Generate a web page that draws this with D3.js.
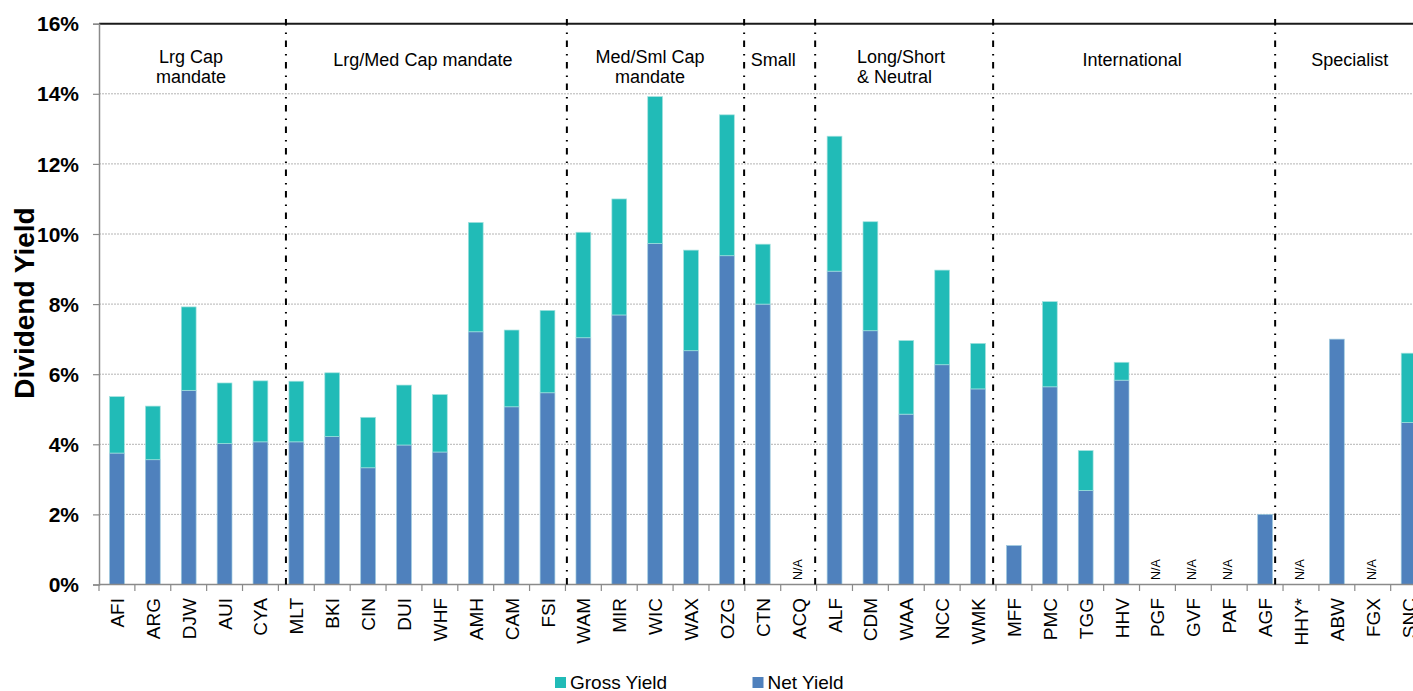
<!DOCTYPE html>
<html>
<head>
<meta charset="utf-8">
<script src="https://cdn.jsdelivr.net/npm/d3@7"></script>
<style>
    body { margin: 0; background: #ffffff; }
    svg { display: block; font-family: "Liberation Sans", Arial, sans-serif; }
</style>
</head>
<body>
<svg id="chart"></svg>
<script>
const categories = ["AFI", "ARG", "DJW", "AUI", "CYA", "MLT", "BKI", "CIN", "DUI", "WHF", "AMH", "CAM", "FSI",
    "WAM", "MIR", "WIC", "WAX", "OZG", "CTN", "ACQ", "ALF", "CDM", "WAA", "NCC", "WMK",
    "MFF", "PMC", "TGG", "HHV", "PGF", "GVF", "PAF", "AGF", "HHY*", "ABW", "FGX", "SNC"];

// null = N/A
const netYield = [3.75, 3.56, 5.54, 4.02, 4.07, 4.07, 4.22, 3.33, 3.98, 3.78, 7.21, 5.07, 5.47,
    7.04, 7.69, 9.73, 6.67, 9.38, 8.00, null, 8.94, 7.24, 4.86, 6.27, 5.58,
    1.11, 5.64, 2.68, 5.83, null, null, null, 2.00, null, 7.00, null, 4.62];

const grossYield = [5.36, 5.09, 7.92, 5.75, 5.81, 5.80, 6.04, 4.77, 5.69, 5.42, 10.33, 7.26, 7.82,
    10.05, 11.00, 13.92, 9.54, 13.40, 9.71, null, 12.79, 10.35, 6.96, 8.97, 6.88,
    1.11, 8.07, 3.82, 6.34, null, null, null, 2.00, null, 7.00, null, 6.60];

const yTicks = [0, 2, 4, 6, 8, 10, 12, 14, 16];

const groupLabels = [
    ["Lrg Cap", "mandate"],
    ["Lrg/Med Cap mandate"],
    ["Med/Sml Cap", "mandate"],
    ["Small"],
    ["Long/Short", "& Neutral"],
    ["International"],
    ["Specialist"]
];

// divider lines, in category-index units (drawn shapes in the original, not exactly on band edges)
const dividerIdx = [5.21, 13.04, 17.98, 19.96, 24.92, 32.78];

const seriesNames = ["Gross Yield", "Net Yield"];

const width = 1413;
const height = 691;
const left = 99;
const bandW = 35.88;
const y0 = 584.5;
const yTop = 23.7;

const netColor = "#4f81bd";
const grossColor = "#21bbb7";

const svg = d3.select("#chart")
    .attr("width", width)
    .attr("height", height);

const x = d3.scaleBand()
    .domain(categories)
    .range([left, left + bandW * categories.length])
    .padding(0);

const idx = d3.scaleLinear()
    .domain([0, categories.length])
    .range([left, left + bandW * categories.length]);

const y = d3.scaleLinear()
    .domain([0, 16])
    .range([y0, yTop]);

const rightEdge = width + 20;

// gridlines
svg.append("g")
    .selectAll("line")
    .data(yTicks.filter(d => d > 0 && d < 16))
    .enter().append("line")
    .attr("x1", left)
    .attr("x2", rightEdge)
    .attr("y1", d => y(d))
    .attr("y2", d => y(d))
    .attr("stroke", "#b4b4b4")
    .attr("stroke-width", 1)
    .attr("stroke-dasharray", "2,1");

// top border at 16%
svg.append("line")
    .attr("x1", left)
    .attr("x2", rightEdge)
    .attr("y1", y(16))
    .attr("y2", y(16))
    .attr("stroke", "#1a1a1a")
    .attr("stroke-width", 2);

// bars
const barW = 14.8;
const bars = svg.append("g");

categories.forEach((c, i) =>
{
    const net = netYield[i];
    const gross = grossYield[i];
    const cx = x(c) + x.bandwidth() / 2;
    if (net === null)
    {
        svg.append("text")
            .attr("transform", `translate(${cx + 3},580) rotate(-90)`)
            .attr("text-anchor", "start")
            .attr("font-size", "12.5px")
            .attr("fill", "#000")
            .text("N/A");
        return;
    }
    bars.append("rect")
        .attr("x", cx - barW / 2)
        .attr("width", barW)
        .attr("y", y(net))
        .attr("height", y(0) - y(net))
        .attr("fill", netColor)
        .attr("stroke", "#9cc9de")
        .attr("stroke-width", 0.7);
    if (gross > net)
    {
        bars.append("rect")
            .attr("x", cx - barW / 2)
            .attr("width", barW)
            .attr("y", y(gross))
            .attr("height", y(net) - y(gross))
            .attr("fill", grossColor)
            .attr("stroke", "#a4e2df")
            .attr("stroke-width", 0.7);
    }
});

// y axis
const yAxis = d3.axisLeft(y)
    .tickValues(yTicks)
    .tickSize(6)
    .tickFormat(d => d + "%");

const yg = svg.append("g")
    .attr("transform", `translate(${left},0)`)
    .call(yAxis);

yg.select(".domain").attr("stroke", "#8a8a8a").attr("stroke-width", 1.5);
yg.selectAll(".tick line").attr("stroke", "#8a8a8a").attr("stroke-width", 1.2);
yg.selectAll(".tick text")
    .attr("x", -20)
    .attr("dy", "0.34em")
    .attr("font-size", "21px")
    .attr("font-weight", "bold")
    .attr("font-family", "'Liberation Sans', Arial, sans-serif")
    .attr("fill", "#000");

// x axis line + ticks at band edges
svg.append("line")
    .attr("x1", left)
    .attr("x2", rightEdge)
    .attr("y1", y0)
    .attr("y2", y0)
    .attr("stroke", "#8a8a8a")
    .attr("stroke-width", 1.5);

svg.append("g")
    .selectAll("line")
    .data(d3.range(categories.length + 1))
    .enter().append("line")
    .attr("x1", d => idx(d))
    .attr("x2", d => idx(d))
    .attr("y1", y0)
    .attr("y2", y0 + 6.5)
    .attr("stroke", "#8a8a8a")
    .attr("stroke-width", 1.2);

svg.append("g")
    .selectAll("text")
    .data(categories)
    .enter().append("text")
    .attr("transform", d => `translate(${x(d) + x.bandwidth() / 2 + 7},598) rotate(-90)`)
    .attr("text-anchor", "end")
    .attr("font-size", "19px")
    .attr("fill", "#000")
    .text(d => d);

// dividers
svg.append("g")
    .selectAll("line")
    .data(dividerIdx)
    .enter().append("line")
    .attr("x1", d => idx(d))
    .attr("x2", d => idx(d))
    .attr("y1", 19)
    .attr("y2", y0)
    .attr("stroke", "#000")
    .attr("stroke-width", 2)
    .attr("stroke-dasharray", "6.5,7,1.5,6.5");

// group labels, centred between dividers
const edges = [left].concat(dividerIdx.map(d => idx(d)), [idx(categories.length)]);
const labelShift = [-1.5, -3.5, -5.5, -6.5, 0, -2, -1];

groupLabels.forEach((lines, i) =>
{
    const mid = (edges[i] + edges[i + 1]) / 2 + labelShift[i];
    const longShort = i === 4;
    const t = svg.append("text")
        .attr("font-size", "18px")
        .attr("fill", "#000")
        .attr("text-anchor", longShort ? "start" : "middle");
    lines.forEach((s, j) =>
    {
        t.append("tspan")
            .attr("x", longShort ? 857 : mid)
            .attr("y", lines.length > 1 ? 63 + j * 20 : 66)
            .text(s);
    });
});

// y title
svg.append("text")
    .attr("transform", "translate(34,303) rotate(-90)")
    .attr("text-anchor", "middle")
    .attr("font-size", "28px")
    .attr("font-weight", "bold")
    .attr("fill", "#000")
    .text("Dividend Yield");

// legend
const legendX = [555, 752.5];
const legend = svg.append("g");

seriesNames.forEach((name, i) =>
{
    legend.append("rect")
        .attr("x", legendX[i])
        .attr("y", 677)
        .attr("width", 11)
        .attr("height", 11)
        .attr("fill", i === 0 ? grossColor : netColor);
    legend.append("text")
        .attr("x", legendX[i] + 15)
        .attr("y", 688.5)
        .attr("font-size", "19px")
        .attr("fill", "#000")
        .text(name);
});
</script>
</body>
</html>
